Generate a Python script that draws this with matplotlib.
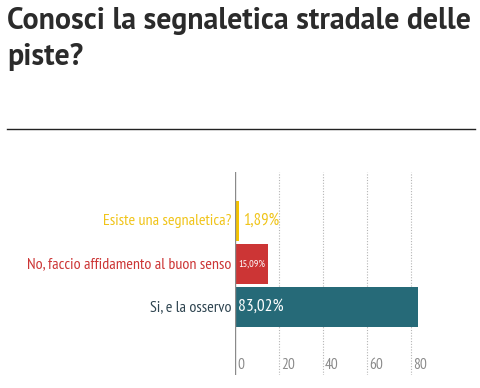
import matplotlib.pyplot as plt
from matplotlib.lines import Line2D

# ==============================
# Data
# ==============================

title_lines = ["Conosci la segnaletica stradale delle", "piste?"]
categories = ["Si, e la osservo", "No, faccio affidamento al buon senso", "Esiste una segnaletica?"]
values = [83.02, 15.09, 1.89]
value_labels = ["83,02%", "15,09%", "1,89%"]
bar_colors = ["#266a78", "#cc3535", "#f5c400"]
label_colors = ["#2e4450", "#cc3535", "#f0c419"]
ticks = [0, 20, 40, 60, 80]

narrow = "PT Sans Narrow"

# ==============================
# Figure
# ==============================

fig = plt.figure(figsize=(4.8, 3.88), dpi=100)

# title, one text per line so baselines can be placed
for line, base in zip(title_lines, [29, 65]):
    fig.text(7 / 480, 1 - base / 388, line, ha="left", va="baseline",
             fontsize=21.5, fontweight="bold", family="PT Sans", color="#2b2b2b")

fig.add_artist(Line2D([7 / 480, 475 / 480], [1 - 129 / 388, 1 - 129 / 388],
                      color="#222222", lw=1.0))

ax = fig.add_axes([235 / 480, 13 / 388, 220 / 480, 203 / 388])
ax.set_xlim(0, 100)
ax.set_ylim(-1.58, 3.14)

y = list(range(len(categories)))
ax.barh(y, values, height=0.92, color=bar_colors)

for v in ticks[1:]:
    ax.axvline(v, color="#b5b5b5", lw=0.8, ls=(0, (1, 1.5)), zorder=0)
ax.axvline(0, color="#8a8a8a", lw=1.0)

for v in ticks:
    ax.text(v + 0.9, 0.015, str(v), transform=ax.get_xaxis_transform(),
            ha="left", va="bottom", fontsize=11, family=narrow, color="#8a8a8a")

for i, (cat, col) in enumerate(zip(categories, label_colors)):
    ax.text(-1.5, i, cat, ha="right", va="center", fontsize=11.5,
            family=narrow, color=col)

# value labels
ax.text(1.5, 0, value_labels[0], ha="left", va="center", fontsize=12.5,
        family=narrow, color="white")
ax.text(1.5, 1, value_labels[1], ha="left", va="center", fontsize=7.5,
        family=narrow, color="white")
ax.text(values[2] + 1.6, 2, value_labels[2], ha="left", va="center", fontsize=12,
        family=narrow, color="#f0c419")

ax.axis("off")

plt.savefig("out.png", dpi=100)
plt.close()
